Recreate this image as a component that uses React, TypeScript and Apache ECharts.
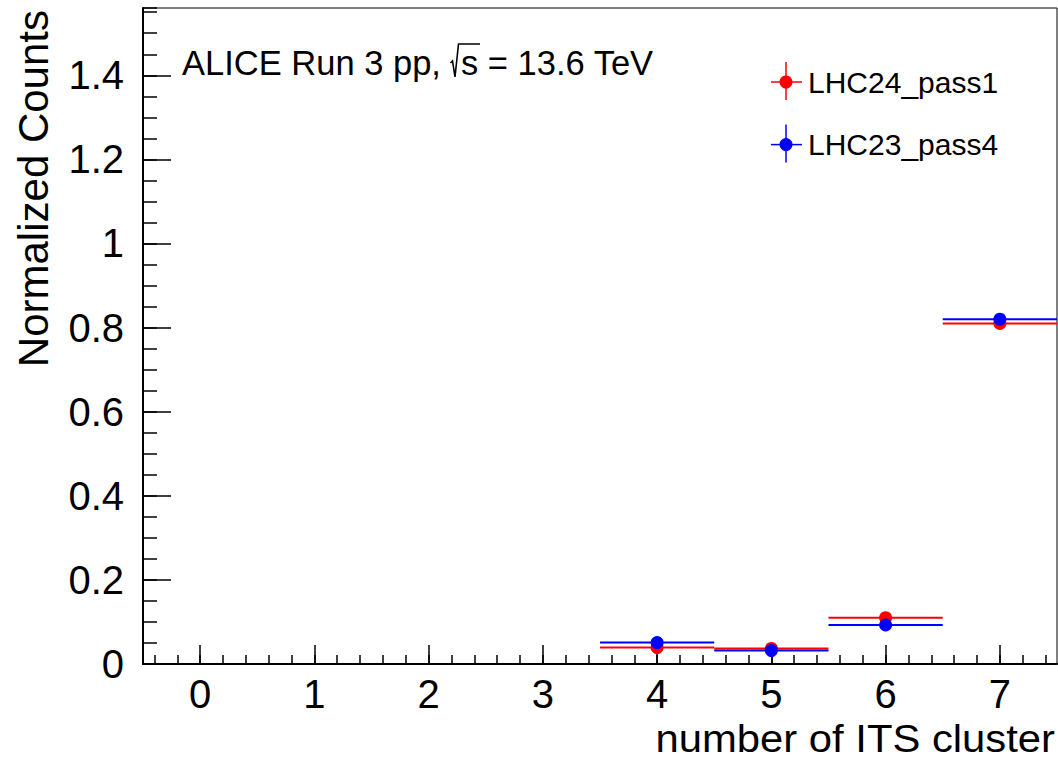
import React, { useEffect, useRef } from "react";
import * as echarts from "echarts";

// ---- data ----
const binCenters = [0, 1, 2, 3, 4, 5, 6, 7];
const lhc24Pass1 = [0, 0, 0, 0, 0.039, 0.037, 0.11, 0.81];
const lhc23Pass4 = [0, 0, 0, 0, 0.051, 0.032, 0.093, 0.82];
const seriesNames = ["LHC24_pass1", "LHC23_pass4"];
const seriesColors = ["#ff0000", "#0000ff"];
const xTickLabels = [0, 1, 2, 3, 4, 5, 6, 7];
const yTickLabels = [0, 0.2, 0.4, 0.6, 0.8, 1, 1.2, 1.4];
const xTitle = "number of ITS cluster";
const yTitle = "Normalized Counts";
const headerText = "ALICE Run 3 pp,";
const energyText = "s = 13.6 TeV";

const FONT = "'Liberation Sans', Arial, Helvetica, sans-serif";
const X_MIN = -0.5;
const X_MAX = 7.5;
const Y_MAX = 1.56;

const xMinorTicks: number[] = [];
for (let k = -2; k <= 37; k++) xMinorTicks.push(Math.round(k * 20) / 100);

function makeSeries(name: string, values: number[], color: string) {
  const data = binCenters
    .map((x, i) => [x, values[i]])
    .filter((d) => d[1] > 0);
  return {
    type: "custom",
    name,
    xAxisIndex: 0,
    yAxisIndex: 0,
    data,
    clip: true,
    renderItem: (params: any, api: any) => {
      const x = api.value(0);
      const y = api.value(1);
      const l = api.coord([x - 0.5, y]);
      const r = api.coord([x + 0.5, y]);
      const c = api.coord([x, y]);
      return {
        type: "group",
        children: [
          {
            type: "line",
            shape: { x1: l[0], y1: l[1], x2: r[0], y2: r[1] },
            style: { stroke: color, lineWidth: 2 },
          },
          {
            type: "circle",
            shape: { cx: c[0], cy: c[1], r: 6.5 },
            style: { fill: color },
          },
        ],
      };
    },
  };
}

export default function App() {
  const ref = useRef<HTMLDivElement>(null);
  useEffect(() => {
    if (!ref.current) return;
    const chart = echarts.init(ref.current, undefined, { renderer: "svg" });

    const legendEls: any[] = [];
    seriesNames.forEach((name, i) => {
      const cy = 82 + i * 62.6;
      const color = seriesColors[i];
      legendEls.push(
        { type: "line", shape: { x1: 786, y1: cy - 20, x2: 786, y2: cy + 18 }, style: { stroke: color, lineWidth: 1.5 } },
        { type: "line", shape: { x1: 771, y1: cy, x2: 802, y2: cy }, style: { stroke: color, lineWidth: 1.5 } },
        { type: "circle", shape: { cx: 786, cy, r: 6.5 }, style: { fill: color } },
        {
          type: "text",
          x: 808,
          y: cy,
          style: { text: name, fontSize: 30, fontFamily: FONT, fill: "#000", align: "left", verticalAlign: "middle" },
        }
      );
    });

    const option: any = {
      animation: false,
      backgroundColor: "#ffffff",
      grid: {
        left: 143,
        right: 1,
        top: 8,
        bottom: 95,
        show: true,
        borderColor: "#000",
        borderWidth: 1,
        backgroundColor: "#fff",
        containLabel: false,
        outerBoundsMode: "none",
      },
      xAxis: [
        {
          type: "value",
          position: "bottom",
          min: X_MIN,
          max: X_MAX,
          axisLine: { show: true, onZero: false, lineStyle: { color: "#000", width: 2 } },
          axisTick: { show: true, inside: true, length: 19, customValues: xTickLabels, lineStyle: { color: "#000", width: 1.5 } },
          axisLabel: { show: true, customValues: xTickLabels, fontSize: 40, color: "#000", fontFamily: FONT, margin: 10 },
          splitLine: { show: false },
        },
        {
          type: "value",
          position: "bottom",
          min: X_MIN,
          max: X_MAX,
          axisLine: { show: false, onZero: false },
          axisTick: { show: true, inside: true, length: 9, customValues: xMinorTicks, lineStyle: { color: "#000", width: 1.5 } },
          axisLabel: { show: false },
          splitLine: { show: false },
        },
      ],
      yAxis: [
        {
          type: "value",
          position: "left",
          min: 0,
          max: Y_MAX,
          axisLine: { show: true, onZero: false, lineStyle: { color: "#000", width: 2 } },
          axisTick: { show: true, inside: true, length: 28, customValues: yTickLabels, lineStyle: { color: "#000", width: 1.5 } },
          axisLabel: { show: true, customValues: yTickLabels, fontSize: 40, color: "#000", fontFamily: FONT, margin: 19 },
          splitLine: { show: false },
        },
        {
          type: "value",
          position: "left",
          min: 0,
          max: Y_MAX,
          interval: 0.05,
          axisLine: { show: false, onZero: false },
          axisTick: { show: true, inside: true, length: 14, lineStyle: { color: "#000", width: 1.5 } },
          axisLabel: { show: false },
          splitLine: { show: false },
        },
      ],
      series: [
        makeSeries(seriesNames[0], lhc24Pass1, seriesColors[0]),
        makeSeries(seriesNames[1], lhc23Pass4, seriesColors[1]),
      ],
      graphic: [
        {
          type: "text",
          x: 182,
          y: 63,
          style: { text: headerText, fontSize: 34.5, fontFamily: FONT, fill: "#000", align: "left", verticalAlign: "middle" },
        },
        {
          type: "polyline",
          shape: { points: [[450.5, 63], [452.5, 61], [455, 77], [458.5, 44], [480, 44]] },
          style: { stroke: "#000", lineWidth: 1.6, fill: "none" },
        },
        {
          type: "text",
          x: 461,
          y: 63,
          style: { text: energyText, fontSize: 34.5, fontFamily: FONT, fill: "#000", align: "left", verticalAlign: "middle" },
        },
        {
          type: "text",
          x: 1055,
          y: 739,
          scaleX: 1.1,
          style: { text: xTitle, fontSize: 38, fontFamily: FONT, fill: "#000", align: "right", verticalAlign: "middle" },
        },
        {
          type: "text",
          x: 33,
          y: 10,
          rotation: Math.PI / 2,
          style: { text: yTitle, fontSize: 42, fontFamily: FONT, fill: "#000", align: "right", verticalAlign: "middle" },
        },
        ...legendEls,
      ],
    };
    chart.setOption(option);
    return () => chart.dispose();
  }, []);
  return (
    <div
      ref={ref}
      style={{ position: "fixed", left: 0, top: 0, width: 1058, height: 759, background: "#fff" }}
    />
  );
}
